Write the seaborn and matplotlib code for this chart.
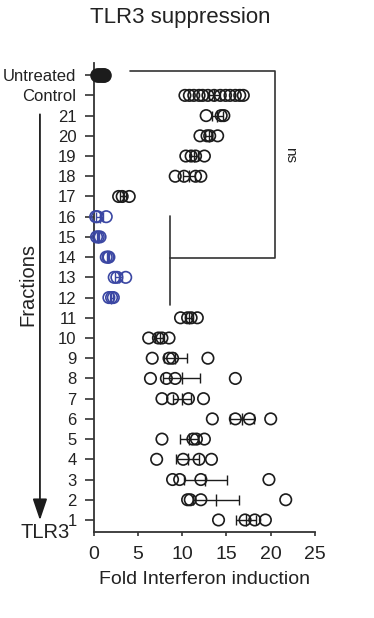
import matplotlib
matplotlib.use("Agg")
import matplotlib.pyplot as plt
import seaborn as sns
import pandas as pd

# values, one list per row
untreated = [0.4, 0.6, 0.8, 1.0, 1.2]
control = [10.3, 10.8, 11.3, 11.9, 12.3, 12.9, 13.6, 14.3, 14.9, 15.4, 16.0, 16.5, 16.9]
f21 = [12.7, 14.4, 14.7]
f20 = [12.0, 12.8, 13.1, 14.0]
f19 = [10.4, 11.0, 11.5, 12.5]
f18 = [9.2, 10.2, 11.5, 12.1]
f17 = [2.8, 3.2, 4.0]
f16 = [0.2, 0.4, 1.4]
f15 = [0.3, 0.5, 0.7]
f14 = [1.4, 1.6, 1.7]
f13 = [2.3, 2.6, 3.6]
f12 = [1.7, 2.0, 2.2]
f11 = [9.8, 10.6, 11.0, 11.7]
f10 = [6.2, 7.3, 7.7, 8.5]
f9 = [6.6, 8.5, 8.9, 12.9]
f8 = [6.4, 8.2, 9.2, 16.0]
f7 = [7.7, 8.9, 10.7, 12.4]
f6 = [13.4, 16.0, 17.6, 20.0]
f5 = [7.7, 11.2, 11.6, 12.5]
f4 = [7.1, 10.1, 11.9, 13.3]
f3 = [8.9, 9.7, 12.1, 19.8]
f2 = [10.6, 10.9, 12.1, 21.7]
f1 = [14.1, 17.1, 18.2, 19.4]

row_labels = ["Untreated", "Control"] + [str(i) for i in range(21, 0, -1)]
row_values = [untreated, control, f21, f20, f19, f18, f17, f16, f15, f14, f13,
              f12, f11, f10, f9, f8, f7, f6, f5, f4, f3, f2, f1]
blue_rows = ["16", "15", "14", "13", "12"]
x_ticks = [0, 5, 10, 15, 20, 25]

records = []
for label, vals in zip(row_labels, row_values):
    for v in vals:
        if label == "Untreated":
            grp = "untreated"
        elif label in blue_rows:
            grp = "blue"
        else:
            grp = "black"
        records.append({"row": label, "value": v, "group": grp})
df = pd.DataFrame(records)
positions = dict(zip(row_labels, range(len(row_labels), 0, -1)))
df["pos"] = df["row"].map(positions)

black = "#1c1c1c"
blue = "#3b47a3"
colors = {"untreated": black, "black": black, "blue": blue}

sns.set_theme(style="ticks")
plt.rcParams["font.family"] = ["Liberation Sans", "DejaVu Sans"]

fig = plt.figure(figsize=(3.74, 6.18), dpi=100)
ax = fig.add_axes([0.251, 0.139, 0.591, 0.759])

# filled untreated points
sns.scatterplot(data=df[df.group == "untreated"], x="value", y="pos", s=90,
                color=black, edgecolor=black, linewidth=1, ax=ax,
                clip_on=False, zorder=3, legend=False)
# open circles
for grp in ["black", "blue"]:
    sns.scatterplot(data=df[df.group == grp], x="value", y="pos", s=68,
                    facecolor="none", edgecolor=colors[grp], linewidth=1.2,
                    ax=ax, clip_on=False, zorder=3, legend=False)

# mean +/- SEM
stats = df[df.group != "untreated"].groupby(["pos", "group"])["value"].agg(["mean", "sem"]).reset_index()
for _, r in stats.iterrows():
    c = colors[r["group"]]
    ax.errorbar(r["mean"], r["pos"], xerr=r["sem"], fmt="none", ecolor=c,
                elinewidth=1, capsize=3.8, capthick=1, clip_on=False, zorder=4)
    ax.scatter(r["mean"], r["pos"], marker="|", s=80, color=c, linewidths=1,
               clip_on=False, zorder=4)

ax.set_xlim(0, 25)
ax.set_ylim(0.4, len(row_labels) + 0.6)
ax.set_xticks(x_ticks)
ax.set_yticks([positions[l] for l in row_labels])
ax.set_yticklabels(row_labels)
sns.despine(ax=ax)
for side in ["left", "bottom"]:
    ax.spines[side].set_linewidth(1.3)
    ax.spines[side].set_color("#333333")
ax.tick_params(axis="y", labelsize=12, length=6.5, width=1.2, pad=6, colors="#333333", labelcolor="#222222")
ax.tick_params(axis="x", labelsize=14, length=3, width=1.2, pad=7, colors="#333333", labelcolor="#222222")
ax.set_xlabel("Fold Interferon induction", fontsize=14, labelpad=6, color="#222222")
ax.set_ylabel("")

# significance bracket
lc = "#333333"
ax.plot([4.07, 20.5, 20.5, 8.6], [23.2, 23.2, 13.95, 13.95], color=lc, lw=1.2, clip_on=False)
ax.plot([8.6, 8.6], [16.03, 11.63], color=lc, lw=1.2, clip_on=False)
ax.text(22.2, 19.05, "ns", rotation=270, fontsize=11, ha="center", va="center", color="#222222")

# fractions arrow
ax.annotate("", xy=(-6.1, 0.85), xytext=(-6.1, 21.2), xycoords="data",
            arrowprops=dict(arrowstyle="-|>,head_length=0.65,head_width=0.22",
                            lw=1.3, color=black, mutation_scale=20),
            annotation_clip=False)
fig.text(28 / 374, 1 - 285 / 618, "Fractions", rotation=90, fontsize=14.5,
         ha="center", va="center", color="#222222")
fig.text(45 / 374, 1 - 533 / 618, "TLR3", fontsize=14.5, ha="center", va="center", color="#222222")
fig.text(180 / 374, 1 - 18 / 618, "TLR3 suppression", fontsize=16, ha="center", va="center", color="#222222")

fig.savefig("out.png", dpi=100)
